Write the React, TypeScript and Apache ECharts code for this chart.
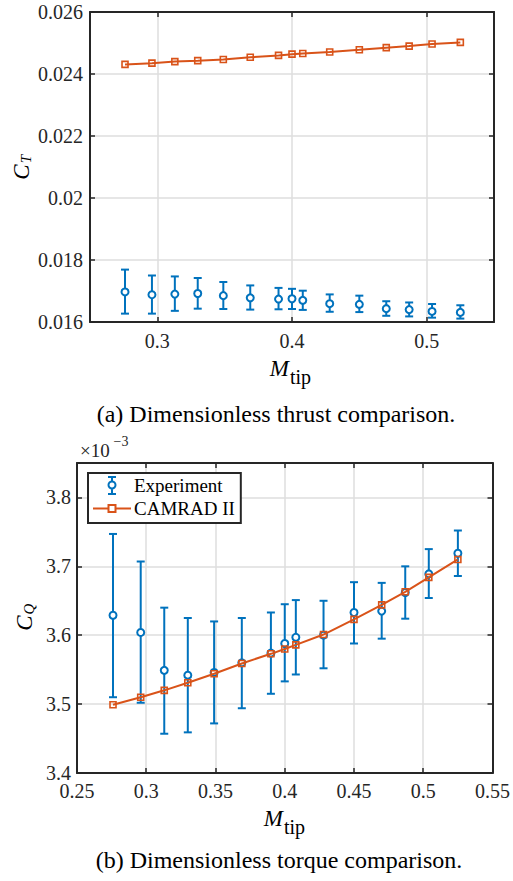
import React, { useEffect, useRef } from "react";
import * as echarts from "echarts";

// ---- Data ----
const mtip = [0.276, 0.296, 0.313, 0.33, 0.349, 0.369, 0.39, 0.4, 0.408, 0.428, 0.45, 0.47, 0.487, 0.504, 0.525];

// (a) thrust coefficient
const ctCamrad = [0.02431, 0.02435, 0.0244, 0.02443, 0.02447, 0.02454, 0.0246, 0.02464, 0.02466, 0.02471, 0.02478, 0.02485, 0.0249, 0.02497, 0.02502];
const ctExp = [0.01697, 0.01688, 0.0169, 0.01692, 0.01685, 0.01678, 0.01674, 0.01675, 0.0167, 0.01659, 0.01657, 0.01643, 0.0164, 0.01634, 0.01631];
const ctExpHi = [0.01769, 0.0175, 0.01747, 0.01742, 0.01729, 0.01718, 0.0171, 0.01707, 0.01701, 0.01689, 0.01685, 0.01667, 0.01663, 0.01658, 0.01654];
const ctExpLo = [0.01627, 0.01627, 0.01636, 0.01643, 0.01642, 0.0164, 0.01641, 0.01642, 0.01639, 0.01633, 0.01632, 0.0162, 0.01618, 0.01614, 0.01611];

// (b) torque coefficient, in units of 1e-3
const cqCamrad = [3.499, 3.51, 3.52, 3.531, 3.544, 3.559, 3.573, 3.58, 3.586, 3.601, 3.623, 3.644, 3.663, 3.684, 3.71];
const cqExp = [3.629, 3.604, 3.549, 3.542, 3.546, 3.56, 3.574, 3.588, 3.597, 3.6, 3.633, 3.635, 3.662, 3.689, 3.719];
const cqExpHi = [3.747, 3.707, 3.64, 3.625, 3.62, 3.625, 3.633, 3.645, 3.651, 3.65, 3.677, 3.676, 3.7, 3.725, 3.752];
const cqExpLo = [3.51, 3.502, 3.457, 3.459, 3.472, 3.494, 3.515, 3.533, 3.543, 3.552, 3.588, 3.595, 3.624, 3.654, 3.686];

// ticks
const mtipTicksA = [0.3, 0.4, 0.5];
const ctTicks = [0.016, 0.018, 0.02, 0.022, 0.024, 0.026];
const mtipTicksB = [0.25, 0.3, 0.35, 0.4, 0.45, 0.5, 0.55];
const cqTicks = [3.4, 3.5, 3.6, 3.7, 3.8];

const BLUE = "#0072BD";
const ORANGE = "#D95319";
const AXIS = "#262626";
const GRIDC = "#dedede";
const FONT = "Liberation Serif";

function errorBarRender(params: any, api: any) {
  const x = api.value(0);
  const lo = api.coord([x, api.value(1)]);
  const hi = api.coord([x, api.value(2)]);
  const w = 4;
  const style = { stroke: BLUE, lineWidth: 2 };
  return {
    type: "group",
    children: [
      { type: "line", shape: { x1: lo[0], y1: lo[1], x2: hi[0], y2: hi[1] }, style },
      { type: "line", shape: { x1: lo[0] - w, y1: lo[1], x2: lo[0] + w, y2: lo[1] }, style },
      { type: "line", shape: { x1: hi[0] - w, y1: hi[1], x2: hi[0] + w, y2: hi[1] }, style },
    ],
  };
}

function mainAxis(gridIndex: number, min: number, max: number, ticks: number[], fmt: (v: number) => string, margin: number) {
  return {
    type: "value",
    gridIndex,
    min,
    max,
    axisLine: { show: true, onZero: false, lineStyle: { color: AXIS, width: 2 } },
    axisTick: { show: true, inside: true, length: 5, customValues: ticks, lineStyle: { color: AXIS, width: 1.5 } },
    axisLabel: { show: true, customValues: ticks, formatter: (v: number) => fmt(v), color: AXIS, fontFamily: FONT, fontSize: 20, margin },
    splitLine: { show: true, lineStyle: { color: GRIDC, width: 1.5 } },
  };
}

function sideAxis(gridIndex: number, position: string, min: number, max: number, ticks: number[]) {
  return {
    type: "value",
    gridIndex,
    position,
    min,
    max,
    axisLine: { show: true, onZero: false, lineStyle: { color: AXIS, width: 2 } },
    axisTick: { show: true, inside: true, length: 5, customValues: ticks, lineStyle: { color: AXIS, width: 1.5 } },
    axisLabel: { show: false },
    splitLine: { show: false },
  };
}

const fmtA_x = (v: number) => String(+v.toFixed(2));
const fmtA_y = (v: number) => String(+v.toFixed(3));
const fmtB_y = (v: number) => v.toFixed(1);

function seriesSet(xi: number, yi: number, lo: number[], hi: number[], exp: number[], cam: number[]) {
  return [
    {
      type: "custom",
      name: "Experiment",
      xAxisIndex: xi,
      yAxisIndex: yi,
      renderItem: errorBarRender,
      encode: { x: 0, y: [1, 2] },
      data: mtip.map((x, i) => [x, lo[i], hi[i]]),
      z: 2,
    },
    {
      type: "scatter",
      name: "Experiment",
      xAxisIndex: xi,
      yAxisIndex: yi,
      symbol: "circle",
      symbolSize: 7,
      itemStyle: { color: "#fff", borderColor: BLUE, borderWidth: 2, opacity: 1 },
      data: mtip.map((x, i) => [x, exp[i]]),
      z: 3,
    },
    {
      type: "line",
      name: "CAMRAD II",
      xAxisIndex: xi,
      yAxisIndex: yi,
      symbol: "rect",
      symbolSize: 6,
      showAllSymbol: true,
      lineStyle: { color: ORANGE, width: 2 },
      itemStyle: { color: "rgba(0,0,0,0)", borderColor: ORANGE, borderWidth: 1.6 },
      data: mtip.map((x, i) => [x, cam[i]]),
      z: 4,
    },
  ];
}

export default function App() {
  const ref = useRef<HTMLDivElement>(null);
  useEffect(() => {
    if (!ref.current) return;
    const chart = echarts.init(ref.current, null, { renderer: "svg" });
    const textStyle = (txt: string, size: number, italic = false) => ({
      text: txt,
      fill: "#000",
      fontFamily: FONT,
      fontSize: size,
      fontStyle: italic ? "italic" : "normal",
    });
    const option: any = {
      animation: false,
      backgroundColor: "#fff",
      textStyle: { fontFamily: FONT },
      grid: [
        { left: 90, top: 12, width: 404, height: 310 },
        { left: 77, top: 463, width: 417, height: 310 },
      ],
      xAxis: [
        mainAxis(0, 0.25, 0.55, mtipTicksA, fmtA_x, 9),
        mainAxis(1, 0.25, 0.55, mtipTicksB, fmtA_x, 8),
        sideAxis(0, "top", 0.25, 0.55, mtipTicksA),
        sideAxis(1, "top", 0.25, 0.55, mtipTicksB),
      ],
      yAxis: [
        mainAxis(0, 0.016, 0.026, ctTicks, fmtA_y, 7),
        mainAxis(1, 3.4, 3.85, cqTicks, fmtB_y, 6),
        sideAxis(0, "right", 0.016, 0.026, ctTicks),
        sideAxis(1, "right", 3.4, 3.85, cqTicks),
      ],
      legend: {
        left: 88,
        top: 473,
        orient: "vertical",
        backgroundColor: "#fff",
        borderColor: AXIS,
        borderWidth: 2,
        borderRadius: 0,
        padding: [3, 6, 4, 4],
        itemGap: 3,
        itemWidth: 38,
        itemHeight: 19,
        symbolKeepAspect: true,
        selectedMode: false,
        textStyle: { fontFamily: FONT, fontSize: 19, color: "#000", padding: [0, 0, 0, -2] },
        data: [
          {
            name: "Experiment",
            icon: "path://M15,1 L23,1 M19,1 L19,5.5 M19,12.5 L19,18 M15,18 L23,18 M19,5.5 A3.5,3.5 0 1,1 19,12.5 A3.5,3.5 0 1,1 19,5.5 M0,9 L0,9.01 M38,9 L38,9.01",
            itemStyle: { color: "rgba(0,0,0,0)", borderColor: BLUE, borderWidth: 2 },
          },
          {
            name: "CAMRAD II",
            icon: "path://M0,9.5 L15.5,9.5 M22.5,9.5 L38,9.5 M15.5,6 L22.5,6 L22.5,13 L15.5,13 Z M19,9.5 L19,9.51 M0,0 L0,0.01 M38,19 L38,19.01",
            itemStyle: { color: "rgba(0,0,0,0)", borderColor: ORANGE, borderWidth: 2 },
          },
        ],
      },
      graphic: [
        // x-axis names
        { type: "text", x: 289, y: 368, style: { ...textStyle("M", 23, true), textAlign: "right", textVerticalAlign: "middle" } },
        { type: "text", x: 290, y: 377, style: { ...textStyle("tip", 20), textAlign: "left", textVerticalAlign: "middle" } },
        { type: "text", x: 283, y: 818, style: { ...textStyle("M", 23, true), textAlign: "right", textVerticalAlign: "middle" } },
        { type: "text", x: 284, y: 827, style: { ...textStyle("tip", 20), textAlign: "left", textVerticalAlign: "middle" } },
        // y-axis names
        {
          type: "group",
          x: 21,
          y: 168,
          rotation: Math.PI / 2,
          children: [
            { type: "text", x: -4, y: 0, style: { ...textStyle("C", 23, true), textAlign: "center", textVerticalAlign: "middle" } },
            { type: "text", x: 9, y: 5, style: { ...textStyle("T", 15, true), textAlign: "center", textVerticalAlign: "middle" } },
          ],
        },
        {
          type: "group",
          x: 24,
          y: 619,
          rotation: Math.PI / 2,
          children: [
            { type: "text", x: -4, y: 0, style: { ...textStyle("C", 23, true), textAlign: "center", textVerticalAlign: "middle" } },
            { type: "text", x: 10, y: 5, style: { ...textStyle("Q", 15, true), textAlign: "center", textVerticalAlign: "middle" } },
          ],
        },
        // exponent
        { type: "text", x: 80, y: 450, style: { ...textStyle("×10", 19), fill: AXIS, textAlign: "left", textVerticalAlign: "middle" } },
        { type: "text", x: 113.5, y: 441, style: { ...textStyle("−3", 14), fill: AXIS, textAlign: "left", textVerticalAlign: "middle" } },
        // captions
        { type: "text", x: 276, y: 414, style: { ...textStyle("(a) Dimensionless thrust comparison.", 24), textAlign: "center", textVerticalAlign: "middle" } },
        { type: "text", x: 279, y: 860, style: { ...textStyle("(b) Dimensionless torque comparison.", 24), textAlign: "center", textVerticalAlign: "middle" } },
      ],
      series: [
        ...seriesSet(0, 0, ctExpLo, ctExpHi, ctExp, ctCamrad),
        ...seriesSet(1, 1, cqExpLo, cqExpHi, cqExp, cqCamrad),
      ],
    };
    chart.setOption(option);
    return () => chart.dispose();
  }, []);
  return <div ref={ref} style={{ position: "absolute", left: 0, top: 0, width: 513, height: 881 }} />;
}
